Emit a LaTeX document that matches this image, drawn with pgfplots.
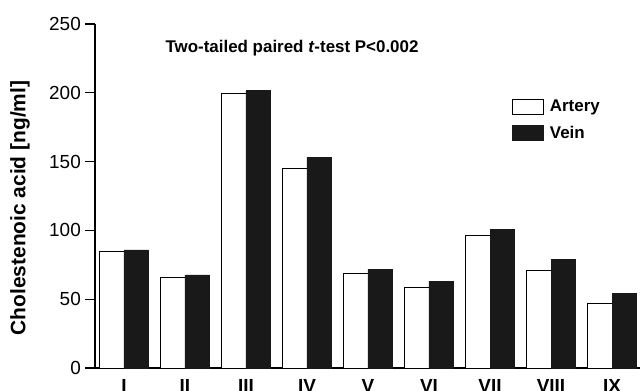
\documentclass[border=0pt]{standalone}
\usepackage{pgfplots}
\pgfplotsset{compat=1.18}
\usepackage{fontspec}
\setmainfont{Liberation Sans}
\begin{document}
\begin{tikzpicture}[x=1bp,y=1bp]
\path[use as bounding box] (-95bp,-23bp) rectangle (547bp,368bp);
\begin{axis}[
  at={(0,0)}, anchor=south west,
  scale only axis, width=545bp, height=344bp,
  xmin=0.525, xmax=9.459, ymin=0, ymax=250,
  axis x line*=bottom, axis y line*=left,
  axis line style={line width=1.6pt},
  ytick={0,50,100,150,200,250},
  tick style={line width=1.3pt, black},
  major tick length=10bp,
  ytick align=outside,
  xtick={1,...,9}, xtick style={draw=none},
  xticklabels={I,II,III,IV,V,VI,VII,VIII,IX},
  x tick label style={font=\fontsize{19}{22}\selectfont\bfseries, inner sep=0pt, yshift=-1bp},
  y tick label style={font=\fontsize{19}{22}\selectfont, inner sep=0pt, xshift=-4bp},
  /pgf/number format/assume math mode=true,
  ylabel={\textbf{Cholestenoic acid [ng/ml]}},
  ylabel style={font=\fontsize{21}{25}\selectfont, at={(axis description cs:-0.1376,0.465)}, anchor=center},
  ybar, bar width=24.5bp,
  legend cell align=left,
  legend style={at={(axis cs:7.361,196.5)}, anchor=north west, draw=none, fill=none,
    inner sep=0pt, font=\fontsize{17}{20}\selectfont\bfseries, row sep=9bp,
    /tikz/every odd column/.append style={column sep=4bp}},
  legend image code/.code={\draw[#1] (0bp,-7.5bp) rectangle (31bp,7.5bp);},
  clip=false,
]
\addplot[bar shift=-12.25bp, draw=black, fill=white, line width=0.7pt] coordinates {
 (1,84.5) (2,65.6) (3,199.5) (4,145.1) (5,68.8) (6,58.4) (7,96.7) (8,71.0) (9,46.7)};
\addlegendentry{Artery}
\addplot[bar shift=12.25bp, draw=black!90, fill=black!90, line width=0.5pt] coordinates {
 (1,85.8) (2,67.6) (3,201.5) (4,153.1) (5,71.5) (6,63.2) (7,100.5) (8,79.0) (9,54.5)};
\addlegendentry{Vein}
\node[font=\fontsize{17}{20}\selectfont\bfseries] at (axis cs:3.755,232.6) {Two-tailed paired \textit{t}-test P<0.002};
\end{axis}
\end{tikzpicture}
\end{document}
